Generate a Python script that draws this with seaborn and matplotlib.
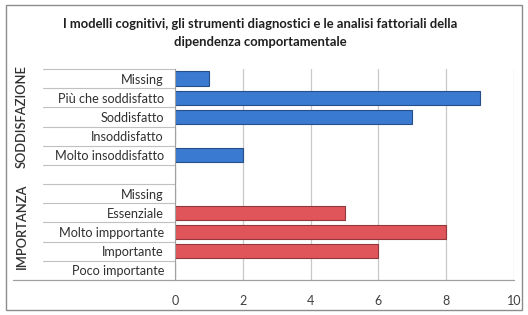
import numpy as np
import pandas as pd
import seaborn as sns
import matplotlib.pyplot as plt
from matplotlib.patches import Rectangle
from matplotlib.lines import Line2D
import matplotlib.transforms as mtransforms

sns.set_style("white")
plt.rcParams['font.family'] = ['Lato', 'DejaVu Sans']

# -------------------------- Data --------------------------
title = "I modelli cognitivi, gli strumenti diagnostici e le analisi fattoriali della\ndipendenza comportamentale"

sodd_labels = ["Missing", "Più che soddisfatto", "Soddisfatto", "Insoddisfatto", "Molto insoddisfatto"]
sodd_values = [1, 9, 7, 0, 2]

imp_labels = ["Missing", "Essenziale", "Molto impportante", "Importante", "Poco importante"]
imp_values = [0, 5, 8, 6, 0]

groups = ["SODDISFAZIONE", "IMPORTANZA"]
xticks = [0, 2, 4, 6, 8, 10]

# one blank row between the two groups
keys = ["S%d" % i for i in range(5)] + ["blank"] + ["I%d" % i for i in range(5)]
labels = sodd_labels + [""] + imp_labels
data = pd.DataFrame({
    "key": keys,
    "value": sodd_values + [0] + imp_values,
    "group": [groups[0]] * 5 + [groups[0]] + [groups[1]] * 5,
})

# -------------------------- Plot --------------------------
fig = plt.figure(figsize=(5.28, 3.15), dpi=100)
ax = fig.add_axes([175 / 528, 1 - 280 / 315, 339 / 528, 211 / 315])

sns.barplot(data=data, x="value", y="key", hue="group", order=keys,
            palette={groups[0]: "#3a7ad0", groups[1]: "#e0555a"},
            saturation=1, dodge=False, width=0.74, legend=False, ax=ax)
for p in ax.patches:
    c = p.get_facecolor()
    p.set_edgecolor(tuple(v * 0.65 for v in c[:3]))
    p.set_linewidth(0.8)

ax.set_xlim(0, 10)
ax.set_xticks(xticks)
ax.set_xticklabels([str(t) for t in xticks], fontsize=9, color="#404040")
ax.set_yticks(range(len(keys)))
ax.set_yticklabels(labels, fontsize=9.1, color="#303030")
ax.tick_params(axis="both", length=0, pad=8)
ax.tick_params(axis="x", pad=11)
ax.set_xlabel("")
ax.set_ylabel("")
ax.grid(axis="x", color="#c8c8c8", linewidth=0.9)
ax.set_axisbelow(True)
for s in ["top", "right", "bottom"]:
    ax.spines[s].set_visible(False)
ax.spines["left"].set_color("#a0a0a0")

# category separators in label area
trans = mtransforms.blended_transform_factory(ax.transAxes, ax.transData)
for b in [-0.5, 0.5, 1.5, 2.5, 3.5, 4.5, 5.5, 6.5, 7.5, 8.5, 9.5]:
    ax.add_line(Line2D([-0.39, 0], [b, b], transform=trans, color="#c0c0c0",
                       linewidth=0.8, clip_on=False))
# bottom axis line extending into label area
fig.add_artist(Line2D([13 / 528, 514 / 528], [1 - 279.5 / 315, 1 - 279.5 / 315],
                      color="#a0a0a0", linewidth=0.9))

# group labels
fig.text(22 / 528, 1 - 117 / 315, groups[0], rotation=90, ha="center", va="center",
         fontsize=9.3, fontweight="semibold", color="#303030")
fig.text(22 / 528, 1 - 226 / 315, groups[1], rotation=90, ha="center", va="center",
         fontsize=9.3, fontweight="semibold", color="#303030")

# title
fig.text(260 / 528, 1 - 33 / 315, title, ha="center", va="center", fontsize=9.4,
         fontweight="bold", color="#202020", linespacing=1.5)

# chart border
fig.add_artist(Rectangle((6 / 528, 1 - 310 / 315), 516 / 528, 305 / 315,
                         transform=fig.transFigure, fill=False,
                         edgecolor="#8c8c8c", linewidth=1.0))

fig.savefig("out.png", dpi=100)
